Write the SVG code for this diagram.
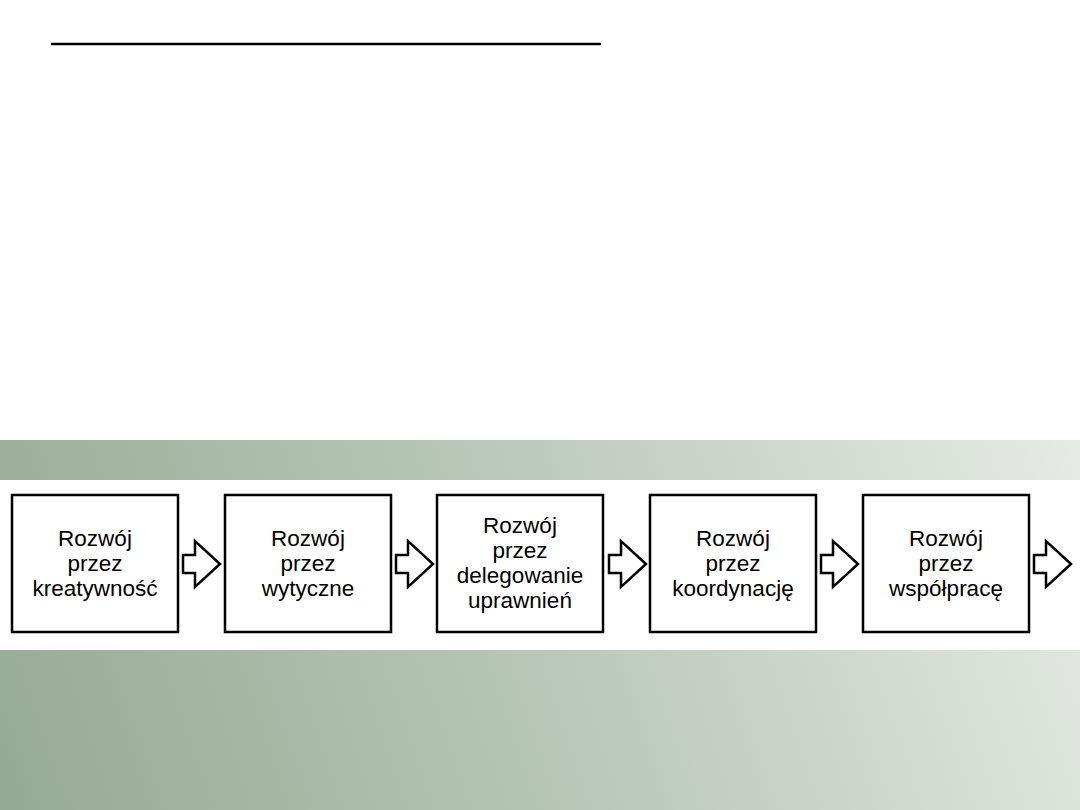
<svg xmlns="http://www.w3.org/2000/svg" width="1080" height="810" viewBox="0 0 1080 810">
<defs>
<linearGradient id="bg" gradientUnits="userSpaceOnUse" x1="0" y1="810" x2="1080" y2="440">
<stop offset="0" stop-color="#95aa93"/>
<stop offset="0.5" stop-color="#b9c8b8"/>
<stop offset="1" stop-color="#e6ebe5"/>
</linearGradient>
<path id="arr" d="M0,-9 H12 V-23 L37,0 L12,23 V9 H0 Z"/>
</defs>
<style>
.box{fill:#fff;stroke:#000;stroke-width:2.5}
.arrow{fill:#fff;stroke:#000;stroke-width:2.5;stroke-linejoin:miter}
.lbl{font-family:"Liberation Sans",Arial,sans-serif;font-size:22.5px;fill:#000;text-anchor:middle}
</style>
<rect x="0" y="0" width="1080" height="810" fill="#fff"/>
<rect x="0" y="440" width="1080" height="370" fill="url(#bg)"/>
<rect x="0" y="480" width="1080" height="170" fill="#fff"/>
<line x1="51" y1="44" x2="601" y2="44" stroke="#000" stroke-width="2.5"/>
<g id="node1"><rect class="box" x="12" y="495" width="166" height="137"/>
<text class="lbl" x="95" y="546">Rozwój</text><text class="lbl" x="95" y="571">przez</text><text class="lbl" x="95" y="596">kreatywność</text></g>
<g id="node2"><rect class="box" x="225" y="495" width="166" height="137"/>
<text class="lbl" x="308" y="546">Rozwój</text><text class="lbl" x="308" y="571">przez</text><text class="lbl" x="308" y="596">wytyczne</text></g>
<g id="node3"><rect class="box" x="437" y="495" width="166" height="137"/>
<text class="lbl" x="520" y="533">Rozwój</text><text class="lbl" x="520" y="558">przez</text><text class="lbl" x="520" y="583">delegowanie</text><text class="lbl" x="520" y="608">uprawnień</text></g>
<g id="node4"><rect class="box" x="650" y="495" width="166" height="137"/>
<text class="lbl" x="733" y="546">Rozwój</text><text class="lbl" x="733" y="571">przez</text><text class="lbl" x="733" y="596">koordynację</text></g>
<g id="node5"><rect class="box" x="863" y="495" width="166" height="137"/>
<text class="lbl" x="946" y="546">Rozwój</text><text class="lbl" x="946" y="571">przez</text><text class="lbl" x="946" y="596">współpracę</text></g>
<g id="connectors">
<use href="#arr" class="arrow" x="183" y="564"/>
<use href="#arr" class="arrow" x="396" y="564"/>
<use href="#arr" class="arrow" x="609" y="564"/>
<use href="#arr" class="arrow" x="821" y="564"/>
<use href="#arr" class="arrow" x="1034" y="564"/>
</g>
</svg>
